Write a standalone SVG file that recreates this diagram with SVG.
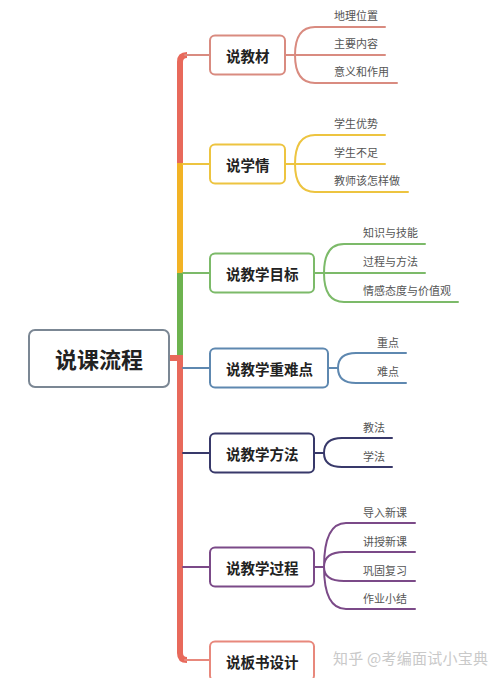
<svg xmlns="http://www.w3.org/2000/svg" width="500" height="678" viewBox="0 0 500 678">
<style>
.box{fill:#fff;stroke-width:2}
.nt{font-family:"Noto Sans CJK SC","Liberation Sans",sans-serif;font-size:14.5px;font-weight:bold;fill:#222;dominant-baseline:central}
.lt{font-family:"Noto Sans CJK SC","Liberation Sans",sans-serif;font-size:11px;fill:#555;dominant-baseline:central}
.ln{fill:none;stroke-width:2;stroke-linecap:round}
.tr{fill:none;stroke-width:6}
</style>
<rect width="500" height="678" fill="#fff"/>
<g id="connectors">
  <path class="tr" stroke="#e8695b" d="M180,163 V62 Q180,55 187,55"/>
  <line class="tr" stroke="#f2b325" x1="180" y1="163" x2="180" y2="273"/>
  <line class="tr" stroke="#6db34f" x1="180" y1="273" x2="180" y2="355"/>
  <path class="tr" stroke="#e8695b" d="M180,355 V653 Q180,660 187,660"/>
  <line class="tr" stroke="#e8695b" x1="169" y1="358" x2="180" y2="358"/>
  <line class="ln" stroke="#d98b80" x1="185" y1="55" x2="210" y2="55"/>
  <line class="ln" stroke="#edc440" x1="183" y1="164" x2="210" y2="164"/>
  <line class="ln" stroke="#7cba69" x1="183" y1="273" x2="210" y2="273"/>
  <line class="ln" stroke="#5e88b0" x1="183" y1="368" x2="210" y2="368"/>
  <line class="ln" stroke="#38396a" x1="183" y1="453" x2="210" y2="453"/>
  <line class="ln" stroke="#7b4a88" x1="183" y1="567" x2="210" y2="567"/>
  <line class="ln" stroke="#e8887c" x1="185" y1="660" x2="210" y2="660"/>
  <!-- 说教材 leaves -->
  <g stroke="#d98b80" class="ln">
    <path class="ln" d="M285,55 H295 M295,55 Q295,27 315,27 H385 M295,55 H385 M295,55 Q295,83 315,83 H397"/>
  </g>
  <g stroke="#edc440">
    <path class="ln" d="M285,164 H295 M295,164 Q295,135 315,135 H385 M295,164 H385 M295,164 Q295,192 315,192 H408"/>
  </g>
  <g stroke="#7cba69">
    <path class="ln" d="M314,273 H324 M324,273 Q324,244 344,244 H425 M324,273 H425 M324,273 Q324,302 344,302 H458"/>
  </g>
  <g stroke="#5e88b0">
    <path class="ln" d="M328,368 H338 M338,368 Q338,353 356,353 H406 M338,368 Q338,383 356,383 H406"/>
  </g>
  <g stroke="#38396a">
    <path class="ln" d="M314,453 H324 M324,453 Q324,438 342,438 H392 M324,453 Q324,467 342,467 H392"/>
  </g>
  <g stroke="#7b4a88">
    <path class="ln" d="M314,567 H324 M324,567 Q324,523 346,523 H415 M324,567 Q324,552 344,552 H415 M324,567 Q324,581 344,581 H415 M324,567 Q324,609 346,609 H415"/>
  </g>
</g>
<g id="root">
  <rect class="box" x="29" y="330" width="140" height="57" rx="6" stroke="#7b8794"/>
  <text x="99" y="358" text-anchor="middle" font-family="'Noto Sans CJK SC','Liberation Sans',sans-serif" font-size="22" font-weight="bold" fill="#222" dominant-baseline="central">说课流程</text>
</g>
<g id="n1">
  <rect class="box" x="210" y="35.5" width="75" height="39" rx="5" stroke="#d98b80"/>
  <text class="nt" x="226" y="55">说教材</text>
  <text class="lt" x="334" y="15">地理位置</text>
  <text class="lt" x="334" y="43">主要内容</text>
  <text class="lt" x="334" y="71">意义和作用</text>
</g>
<g id="n2">
  <rect class="box" x="210" y="144.5" width="75" height="39" rx="5" stroke="#edc440"/>
  <text class="nt" x="226" y="164">说学情</text>
  <text class="lt" x="334" y="123">学生优势</text>
  <text class="lt" x="334" y="152">学生不足</text>
  <text class="lt" x="334" y="180">教师该怎样做</text>
</g>
<g id="n3">
  <rect class="box" x="210" y="253.5" width="104" height="39" rx="5" stroke="#7cba69"/>
  <text class="nt" x="226" y="273">说教学目标</text>
  <text class="lt" x="363" y="232">知识与技能</text>
  <text class="lt" x="363" y="261">过程与方法</text>
  <text class="lt" x="363" y="290">情感态度与价值观</text>
</g>
<g id="n4">
  <rect class="box" x="210" y="348.5" width="118" height="39" rx="5" stroke="#5e88b0"/>
  <text class="nt" x="226" y="368">说教学重难点</text>
  <text class="lt" x="377" y="342">重点</text>
  <text class="lt" x="377" y="371">难点</text>
</g>
<g id="n5">
  <rect class="box" x="210" y="433.5" width="104" height="39" rx="5" stroke="#38396a"/>
  <text class="nt" x="226" y="453">说教学方法</text>
  <text class="lt" x="363" y="427">教法</text>
  <text class="lt" x="363" y="456">学法</text>
</g>
<g id="n6">
  <rect class="box" x="210" y="547.5" width="104" height="39" rx="5" stroke="#7b4a88"/>
  <text class="nt" x="226" y="567">说教学过程</text>
  <text class="lt" x="363" y="512">导入新课</text>
  <text class="lt" x="363" y="541">讲授新课</text>
  <text class="lt" x="363" y="570">巩固复习</text>
  <text class="lt" x="363" y="598">作业小结</text>
</g>
<g id="n7">
  <rect class="box" x="210" y="641.5" width="104" height="39" rx="5" stroke="#e8887c"/>
  <text class="nt" x="226" y="661">说板书设计</text>
</g>
<text x="333" y="657" font-family="'Noto Sans CJK SC','Liberation Sans',sans-serif" font-size="15" fill="#c9c9c9" dominant-baseline="central" textLength="155">知乎 @考编面试小宝典</text>
</svg>
